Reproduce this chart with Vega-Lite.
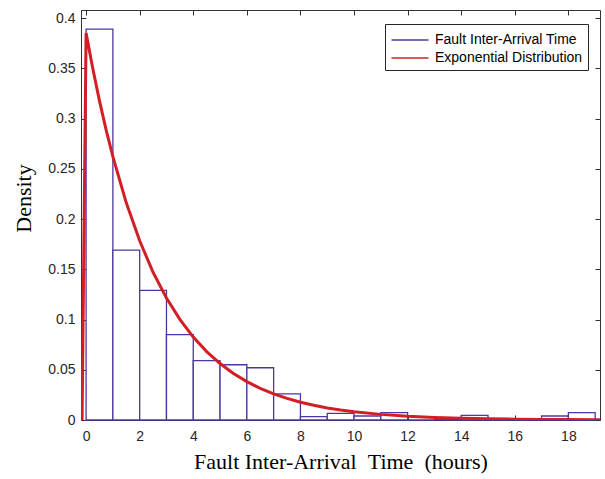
{
  "$schema": "https://vega.github.io/schema/vega-lite/v6.json",
  "width": 519,
  "height": 410,
  "autosize": {"type": "none"},
  "padding": {"left": 81, "top": 10, "right": 5, "bottom": 59},
  "background": "white",
  "config": {
    "view": {"stroke": "#333333", "strokeWidth": 1},
    "axis": {
      "labelFont": "Liberation Sans",
      "labelFontSize": 14,
      "labelColor": "#262626",
      "domain": false,
      "tickColor": "#333333",
      "tickSize": -5,
      "grid": false,
      "titleFont": "Liberation Serif",
      "titleFontSize": 22,
      "titleFontWeight": "normal",
      "titleColor": "black"
    }
  },
  "datasets": {
    "bins": [
      {"x0": 0, "x1": 1, "density": 0.389},
      {"x0": 1, "x1": 2, "density": 0.169},
      {"x0": 2, "x1": 3, "density": 0.129},
      {"x0": 3, "x1": 4, "density": 0.085},
      {"x0": 4, "x1": 5, "density": 0.059},
      {"x0": 5, "x1": 6, "density": 0.055},
      {"x0": 6, "x1": 7, "density": 0.052},
      {"x0": 7, "x1": 8, "density": 0.026},
      {"x0": 8, "x1": 9, "density": 0.0033},
      {"x0": 9, "x1": 10, "density": 0.0066},
      {"x0": 10, "x1": 11, "density": 0.004},
      {"x0": 11, "x1": 12, "density": 0.0073},
      {"x0": 12, "x1": 13, "density": 0},
      {"x0": 13, "x1": 14, "density": 0.001},
      {"x0": 14, "x1": 15, "density": 0.0047},
      {"x0": 15, "x1": 16, "density": 0},
      {"x0": 16, "x1": 17, "density": 0},
      {"x0": 17, "x1": 18, "density": 0.004},
      {"x0": 18, "x1": 19, "density": 0.0073}
    ],
    "curve": [
      {"x": -0.15, "density": 0},
      {"x": 0, "density": 0.385},
      {"x": 0.25, "density": 0.3497},
      {"x": 0.5, "density": 0.3176},
      {"x": 0.75, "density": 0.2884},
      {"x": 1, "density": 0.262},
      {"x": 1.5, "density": 0.2161},
      {"x": 2, "density": 0.1783},
      {"x": 2.5, "density": 0.147},
      {"x": 3, "density": 0.1213},
      {"x": 3.5, "density": 0.1001},
      {"x": 4, "density": 0.0825},
      {"x": 4.5, "density": 0.0681},
      {"x": 5, "density": 0.0562},
      {"x": 5.5, "density": 0.0463},
      {"x": 6, "density": 0.0382},
      {"x": 6.5, "density": 0.0315},
      {"x": 7, "density": 0.026},
      {"x": 7.5, "density": 0.0215},
      {"x": 8, "density": 0.0177},
      {"x": 8.5, "density": 0.0146},
      {"x": 9, "density": 0.012},
      {"x": 9.5, "density": 0.0099},
      {"x": 10, "density": 0.0082},
      {"x": 11, "density": 0.0056},
      {"x": 12, "density": 0.0038},
      {"x": 13, "density": 0.0026},
      {"x": 14, "density": 0.0018},
      {"x": 15, "density": 0.0012},
      {"x": 16, "density": 0.0008},
      {"x": 17, "density": 0.0006},
      {"x": 18, "density": 0.0004},
      {"x": 19, "density": 0.0003},
      {"x": 19.18, "density": 0.0003}
    ]
  },
  "layer": [
    {
      "data": {"name": "bins"},
      "mark": {"type": "bar", "fill": "white", "strokeWidth": 1.3},
      "encoding": {
        "x": {
          "field": "x0",
          "type": "quantitative",
          "scale": {"domain": [-0.19, 19.18], "nice": false, "zero": false},
          "axis": {
            "values": [0, 2, 4, 6, 8, 10, 12, 14, 16, 18],
            "format": "~g",
            "labelPadding": 14,
            "title": "Fault Inter-Arrival \u00a0Time \u00a0(hours)",
            "titleY": 48,
            "titleBaseline": "alphabetic"
          }
        },
        "x2": {"field": "x1"},
        "y": {
          "field": "density",
          "type": "quantitative",
          "scale": {"domain": [0, 0.408], "nice": false},
          "axis": {
            "values": [0, 0.05, 0.1, 0.15, 0.2, 0.25, 0.3, 0.35, 0.4],
            "format": "~g",
            "labelPadding": 11,
            "title": "Density",
            "titleX": -58,
            "titleY": 188,
            "titleBaseline": "middle"
          }
        },
        "y2": {"datum": 0},
        "stroke": {
          "datum": "Fault Inter-Arrival Time",
          "type": "nominal",
          "scale": {
            "domain": ["Fault Inter-Arrival Time", "Exponential Distribution"],
            "range": ["#4e36a0", "#d21f26"]
          },
          "legend": {
            "title": null,
            "orient": "none",
            "legendX": 304,
            "legendY": 14,
            "symbolType": "M-1.85,0H1.85",
            "symbolSize": 400,
            "symbolOffset": 9,
            "labelFont": "Liberation Sans",
            "labelFontSize": 14,
            "labelColor": "black",
            "labelOffset": 14,
            "labelLimit": 300,
            "strokeColor": "#262626",
            "fillColor": "white",
            "padding": 5,
            "rowPadding": 0,
            "encode": {
              "symbols": {
                "update": {
                  "stroke": {"signal": "datum.value === 'Exponential Distribution' ? '#d21f26' : '#4e36a0'"},
                  "strokeWidth": {"signal": "datum.value === 'Exponential Distribution' ? 3 : 1.2"},
                  "fill": {"value": "transparent"}
                }
              }
            }
          }
        }
      }
    },
    {
      "data": {"name": "curve"},
      "mark": {"type": "line", "strokeWidth": 3, "clip": true},
      "encoding": {
        "x": {"field": "x", "type": "quantitative", "axis": null},
        "y": {"field": "density", "type": "quantitative", "axis": null},
        "stroke": {"datum": "Exponential Distribution", "type": "nominal"}
      }
    },
    {
      "data": {"name": "curve"},
      "mark": {"type": "point", "opacity": 0},
      "encoding": {
        "x": {
          "field": "x",
          "type": "quantitative",
          "axis": {"orient": "top", "labels": false, "title": null, "values": [0, 2, 4, 6, 8, 10, 12, 14, 16, 18]}
        },
        "y": {
          "field": "density",
          "type": "quantitative",
          "axis": {"orient": "right", "labels": false, "title": null, "values": [0, 0.05, 0.1, 0.15, 0.2, 0.25, 0.3, 0.35, 0.4]}
        }
      }
    }
  ],
  "resolve": {"axis": {"x": "independent", "y": "independent"}}
}
